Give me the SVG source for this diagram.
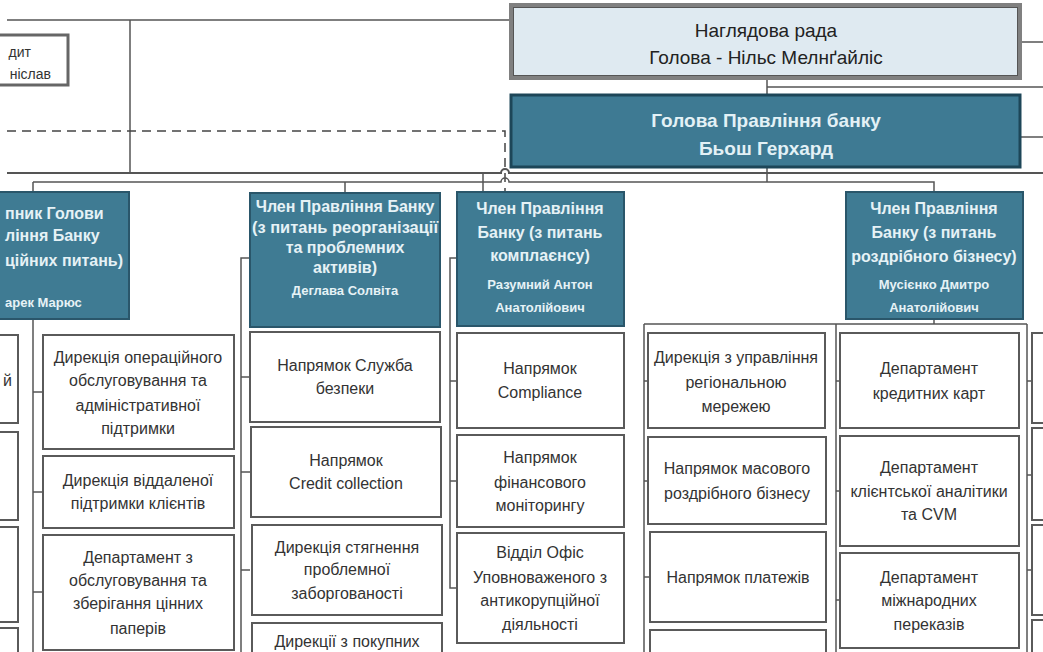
<svg xmlns="http://www.w3.org/2000/svg" width="1043" height="652" viewBox="0 0 1043 652">
<style>
.ln{stroke:#555;stroke-width:1.5;fill:none}
.lnb{stroke:#555;stroke-width:2;fill:none}
.dash{stroke:#444;stroke-width:1.5;fill:none;stroke-dasharray:9 6}
.box{fill:#fff;stroke:#5a5a5a;stroke-width:2}
.mbr{fill:#3f7b93;stroke:#2a566a;stroke-width:2}
.t{font-family:"Liberation Sans",Arial,sans-serif;font-size:16px;fill:#333;text-anchor:middle}
.tl{font-family:"Liberation Sans",Arial,sans-serif;font-size:16px;fill:#333;text-anchor:start}
.mt{font-family:"Liberation Sans",Arial,sans-serif;font-size:16px;font-weight:bold;fill:#e6f2f6;text-anchor:middle}
.mtl{font-family:"Liberation Sans",Arial,sans-serif;font-size:16px;font-weight:bold;fill:#e6f2f6;text-anchor:start}
.mn{font-family:"Liberation Sans",Arial,sans-serif;font-size:13px;font-weight:bold;fill:#e6f2f6;text-anchor:middle}
.mnl{font-family:"Liberation Sans",Arial,sans-serif;font-size:13px;font-weight:bold;fill:#e6f2f6;text-anchor:start}
.big{font-family:"Liberation Sans",Arial,sans-serif;font-size:19px;fill:#222;text-anchor:middle}
.bigw{font-family:"Liberation Sans",Arial,sans-serif;font-size:19px;font-weight:bold;fill:#e3f1f6;text-anchor:middle}
.sm{font-family:"Liberation Sans",Arial,sans-serif;font-size:14px;fill:#333;text-anchor:end}
</style>
<rect width="1043" height="652" fill="#fff"/>

<g id="connectors">
  <path class="ln" d="M7 20 H511"/>
  <path class="ln" d="M130 20 V173"/>
  <path class="dash" d="M7 131 H505 V192"/>
  <path class="lnb" d="M7 173 H501 A4 4 0 0 1 509 173 H1043"/>
  <path class="ln" d="M33 182 H501 A4 4 0 0 1 509 182 H934 V192"/>
  <path class="ln" d="M1020 42 H1043"/>
  <path class="ln" d="M767 78 V95"/>
  <path class="ln" d="M767 87 H1043"/>
  <path class="ln" d="M1020 137 H1043"/>
  <path class="ln" d="M767 167 V182"/>
  <path class="ln" d="M33 182 V192"/>
  <path class="ln" d="M345 182 V193"/>
  <path class="ln" d="M483 173 V192"/>
  <path class="ln" d="M33 319 V652 M33 392 H43 M33 492 H43 M33 592 H43"/>
  <path class="ln" d="M250 258 H241 V652 M241 377 H250 M241 472 H250 M241 570 H250"/>
  <path class="ln" d="M457 258 H450 V588 H457 M450 381 H457 M450 481 H457"/>
  <path class="ln" d="M934 319 V324 M644 324 H1027 M644 324 V652 M836 324 V652 M1027 324 V652"/>
  <path class="ln" d="M644 381 H648 M644 481 H648 M644 577 H650"/>
  <path class="ln" d="M836 381 H840 M836 491 H840 M836 600 H840"/>
  <path class="ln" d="M1027 381 H1032 M1027 475 H1032 M1027 570 H1032"/>
</g>

<g id="audit">
  <rect x="-10" y="35" width="78" height="50" fill="#fff" stroke="#666" stroke-width="3"/>
  <text class="sm" x="31" y="57">дит</text>
  <text class="sm" x="51" y="79">ніслав</text>
</g>

<g id="supervisory">
  <rect x="511" y="5" width="509" height="73" fill="#dfeaf1" stroke="#808080" stroke-width="4"/>
  <rect x="513.5" y="7.5" width="504" height="68" fill="none" stroke="#555" stroke-width="1"/>
  <text class="big" x="766" y="37">Наглядова рада</text>
  <text class="big" x="766" y="64">Голова - Нільс Мелнґайліс</text>
</g>

<g id="ceo">
  <rect x="511" y="95" width="509" height="72" fill="#3e7a93" stroke="#1d4658" stroke-width="3"/>
  <text class="bigw" x="766" y="127">Голова Правління банку</text>
  <text class="bigw" x="766" y="155">Бьош Герхард</text>
</g>

<g id="deputy">
  <rect x="-62" y="192" width="191" height="127" class="mbr"/>
  <text class="mtl" x="5" y="219">пник Голови</text>
  <text class="mtl" x="5" y="241">ління Банку</text>
  <text class="mtl" x="5" y="266">ційних питань)</text>
  <text class="mnl" x="5" y="307">арек Марюс</text>
</g>

<g id="member-reorg">
  <rect x="250" y="193" width="190" height="134" class="mbr"/>
  <text class="mt" x="345" y="212">Член Правління Банку</text>
  <text class="mt" x="345" y="233" textLength="186" lengthAdjust="spacingAndGlyphs">(з питань реорганізації</text>
  <text class="mt" x="345" y="253">та проблемних</text>
  <text class="mt" x="345" y="273">активів)</text>
  <text class="mn" x="345" y="295">Деглава Солвіта</text>
</g>

<g id="member-compliance">
  <rect x="457" y="192" width="167" height="134" class="mbr"/>
  <text class="mt" x="540" y="214">Член Правління</text>
  <text class="mt" x="540" y="238">Банку (з питань</text>
  <text class="mt" x="540" y="261">комплаєнсу)</text>
  <text class="mn" x="540" y="289">Разумний Антон</text>
  <text class="mn" x="540" y="312">Анатолійович</text>
</g>

<g id="member-retail">
  <rect x="846" y="192" width="177" height="127" class="mbr"/>
  <text class="mt" x="934" y="214">Член Правління</text>
  <text class="mt" x="934" y="238">Банку (з питань</text>
  <text class="mt" x="934" y="262">роздрібного бізнесу)</text>
  <text class="mn" x="934" y="289">Мусієнко Дмитро</text>
  <text class="mn" x="934" y="312">Анатолійович</text>
</g>

<g id="far-left">
  <rect x="-10" y="335" width="28" height="88" class="box"/>
  <rect x="-10" y="432" width="28" height="88" class="box"/>
  <rect x="-10" y="527" width="28" height="95" class="box"/>
  <rect x="-10" y="628" width="28" height="40" class="box"/>
  <text class="tl" x="3" y="386">й</text>
</g>

<g id="col-a">
  <rect x="43" y="335" width="191" height="114" class="box"/>
  <text class="t" x="138" y="363">Дирекція операційного</text>
  <text class="t" x="138" y="386">обслуговування та</text>
  <text class="t" x="138" y="411">адміністративної</text>
  <text class="t" x="138" y="434">підтримки</text>
  <rect x="43" y="456" width="191" height="72" class="box"/>
  <text class="t" x="138" y="486">Дирекція віддаленої</text>
  <text class="t" x="138" y="509">підтримки клієнтів</text>
  <rect x="43" y="535" width="191" height="115" class="box"/>
  <text class="t" x="138" y="563">Департамент з</text>
  <text class="t" x="138" y="586">обслуговування та</text>
  <text class="t" x="138" y="609">зберігання цінних</text>
  <text class="t" x="138" y="634">паперів</text>
</g>

<g id="col-b">
  <rect x="250" y="332" width="190" height="90" class="box"/>
  <text class="t" x="345" y="371">Напрямок Служба</text>
  <text class="t" x="345" y="394">безпеки</text>
  <rect x="251" y="427" width="190" height="90" class="box"/>
  <text class="t" x="346" y="466">Напрямок</text>
  <text class="t" x="346" y="489">Credit collection</text>
  <rect x="252" y="525" width="190" height="90" class="box"/>
  <text class="t" x="347" y="553">Дирекція стягнення</text>
  <text class="t" x="347" y="575">проблемної</text>
  <text class="t" x="347" y="599">заборгованості</text>
  <rect x="252" y="623" width="190" height="50" class="box"/>
  <text class="t" x="347" y="647">Дирекції з покупних</text>
</g>

<g id="col-c">
  <rect x="457" y="333" width="167" height="95" class="box"/>
  <text class="t" x="540" y="374">Напрямок</text>
  <text class="t" x="540" y="398">Compliance</text>
  <rect x="457" y="435" width="167" height="92" class="box"/>
  <text class="t" x="540" y="463">Напрямок</text>
  <text class="t" x="540" y="488">фінансового</text>
  <text class="t" x="540" y="511">моніторингу</text>
  <rect x="457" y="533" width="167" height="110" class="box"/>
  <text class="t" x="540" y="558">Відділ Офіс</text>
  <text class="t" x="540" y="583">Уповноваженого з</text>
  <text class="t" x="540" y="606">антикорупційної</text>
  <text class="t" x="540" y="630">діяльності</text>
</g>

<g id="col-d">
  <rect x="648" y="333" width="177" height="95" class="box"/>
  <text class="t" x="736" y="363">Дирекція з управління</text>
  <text class="t" x="736" y="388">регіональною</text>
  <text class="t" x="736" y="412">мережею</text>
  <rect x="648" y="437" width="178" height="87" class="box"/>
  <text class="t" x="737" y="474">Напрямок масового</text>
  <text class="t" x="737" y="499">роздрібного бізнесу</text>
  <rect x="650" y="532" width="176" height="90" class="box"/>
  <text class="t" x="738" y="583">Напрямок платежів</text>
  <rect x="650" y="630" width="176" height="40" class="box"/>
</g>

<g id="col-e">
  <rect x="840" y="333" width="179" height="95" class="box"/>
  <text class="t" x="929" y="374">Департамент</text>
  <text class="t" x="929" y="399">кредитних карт</text>
  <rect x="840" y="436" width="179" height="110" class="box"/>
  <text class="t" x="929" y="473">Департамент</text>
  <text class="t" x="929" y="497">клієнтської аналітики</text>
  <text class="t" x="929" y="520">та CVM</text>
  <rect x="840" y="553" width="179" height="95" class="box"/>
  <text class="t" x="929" y="583">Департамент</text>
  <text class="t" x="929" y="606">міжнародних</text>
  <text class="t" x="929" y="630">переказів</text>
</g>

<g id="far-right">
  <rect x="1032" y="333" width="30" height="90" class="box"/>
  <rect x="1032" y="428" width="30" height="92" class="box"/>
  <rect x="1032" y="525" width="30" height="90" class="box"/>
  <rect x="1032" y="620" width="30" height="50" class="box"/>
</g>
</svg>
